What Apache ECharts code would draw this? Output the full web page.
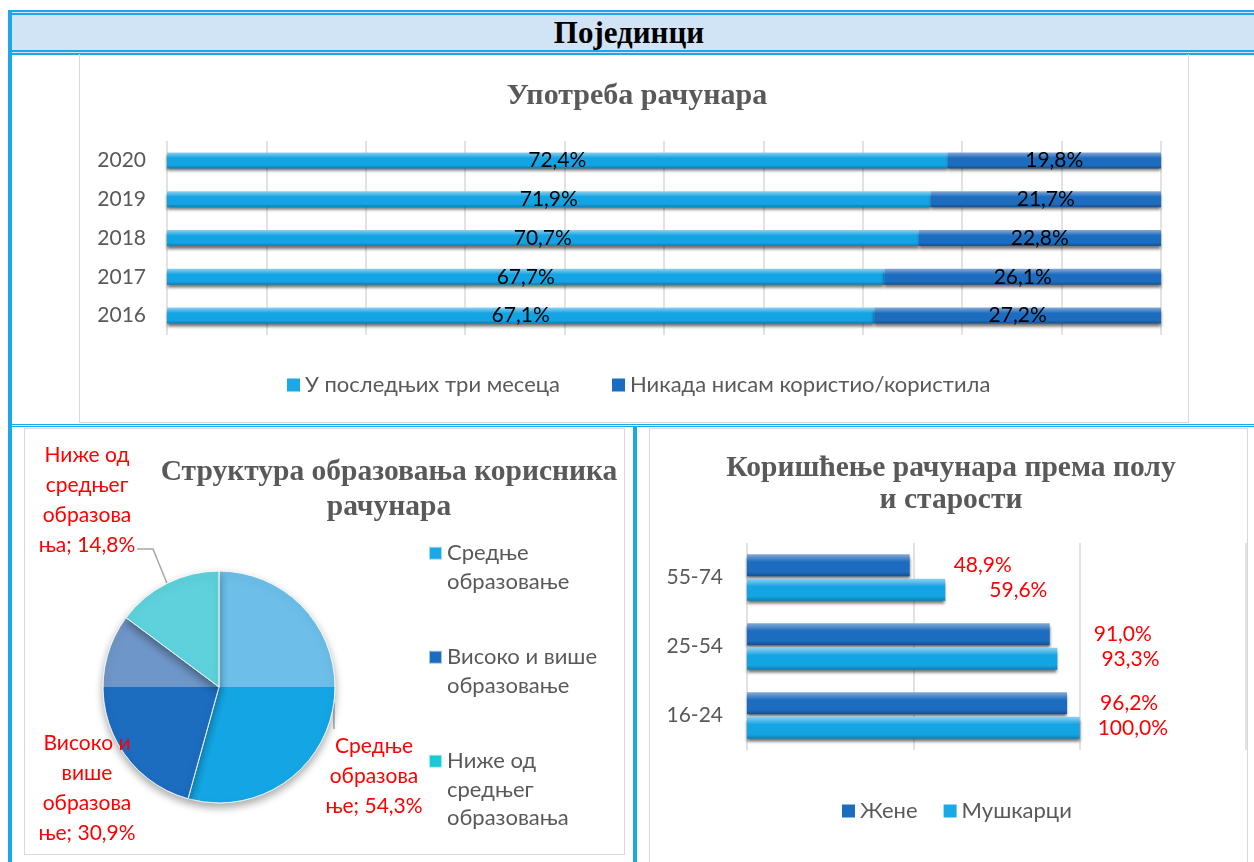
<!DOCTYPE html>
<html>
<head>
<meta charset="utf-8">
<script src="https://cdn.jsdelivr.net/npm/echarts@6/dist/echarts.min.js"></script>
<style>
  body { margin: 0; background: #fff; width: 1254px; height: 862px; position: relative; overflow: hidden; }
  .blue { position: absolute; background: #1aa9e6; }
  .box { position: absolute; box-sizing: border-box; border: 1px solid #d9d9d9; }
  #head { position: absolute; left: 8px; top: 10px; width: 1250px; height: 45px; box-sizing: border-box;
          border-top: 5px double #1aa9e6; border-bottom: 5px double #1aa9e6; background: #d0e4f5;
          font: bold 31px "Liberation Serif", serif; color: #000; text-align: center; line-height: 35px; }
</style>
</head>
<body>
<div id="head"><span style="margin-left:-8px">Појединци</span></div>
<div class="blue" style="left:8px;top:10px;width:4px;height:852px"></div>
<div class="blue" style="left:8px;top:424px;width:1246px;height:1px"></div>
<div class="blue" style="left:8px;top:426px;width:1246px;height:1px"></div>
<div class="blue" style="left:633px;top:426px;width:4px;height:436px"></div>
<div class="box" id="usage" style="left:79px;top:54px;width:1110px;height:369px;border-top:none"></div>
<div class="box" id="edu" style="left:24px;top:428px;width:601px;height:427px"></div>
<div class="box" id="gender" style="left:649px;top:428px;width:599px;height:440px"></div>
<script>
// Употреба рачунара
let years = ['2016', '2017', '2018', '2019', '2020'];
let lastThree = [67.1, 67.7, 70.7, 71.9, 72.4];
let never = [27.2, 26.1, 22.8, 21.7, 19.8];

// Структура образовања
let eduNames = ['Средње образовање', 'Високо и више образовање', 'Ниже од средњег образовања'];
let eduValues = [54.3, 30.9, 14.8];

// Пол и старост
let ages = ['16-24', '25-54', '55-74'];
let women = [96.2, 91.0, 48.9];
let men = [100.0, 93.3, 59.6];

let sans = 'Lato, "Open Sans", sans-serif';
let serif = '"Liberation Serif", serif';
let gray = '#595959';

function glossy(top, mid, bottom) {
    return new echarts.graphic.LinearGradient(0, 0, 0, 1, [
        {offset: 0, color: top},
        {offset: 0.35, color: mid},
        {offset: 0.8, color: mid},
        {offset: 1, color: bottom}
    ]);
}
let lightBar = glossy('#8fd0f1', '#13a4e3', '#0c7fb3');
let darkBar = glossy('#86a9d6', '#1c6dbf', '#164f8c');
let barShadow = {shadowColor: 'rgba(0,0,0,0.55)', shadowBlur: 3, shadowOffsetY: 3};
let fmt = function (v) { return v.toFixed(1).replace('.', ',') + '%'; };

// top chart: 100% stacked
let chart1 = echarts.init(document.getElementById('usage'));
let share1 = lastThree.map((v, i) => v / (v + never[i]) * 100);
let share2 = never.map((v, i) => v / (v + lastThree[i]) * 100);
chart1.setOption({
    title: {
        text: 'Употреба рачунара', left: 552, top: 22, textAlign: 'center',
        textStyle: {fontFamily: serif, fontWeight: 'bold', fontSize: 30, color: gray}
    },
    legend: {
        top: 315, left: 202, itemWidth: 13, itemHeight: 13, itemGap: 52, icon: 'rect',
        textStyle: {fontFamily: sans, fontSize: 22, color: gray},
        data: [{name: 'У последњих три месеца', itemStyle: {color: '#1aa9e6'}},
               {name: 'Никада нисам користио/користила', itemStyle: {color: '#1c6dbf'}}]
    },
    grid: {left: 87, top: 87, width: 994, height: 194},
    xAxis: {
        type: 'value', min: 0, max: 100, interval: 10,
        axisLabel: {show: false}, axisLine: {show: false}, axisTick: {show: false},
        splitLine: {lineStyle: {color: '#d9d9d9', width: 1.5}}
    },
    yAxis: {
        type: 'category', data: years,
        axisLine: {show: false}, axisTick: {show: false},
        axisLabel: {fontFamily: sans, fontSize: 21, color: gray, margin: 21}
    },
    series: [
        {
            name: 'У последњих три месеца', type: 'bar', stack: 'a', barWidth: 16, data: share1,
            itemStyle: Object.assign({color: lightBar}, barShadow),
            label: {show: true, position: 'inside', color: '#000', fontFamily: sans, fontSize: 21,
                    formatter: p => fmt(lastThree[p.dataIndex])}
        },
        {
            name: 'Никада нисам користио/користила', type: 'bar', stack: 'a', barWidth: 16, data: share2,
            itemStyle: Object.assign({color: darkBar}, barShadow),
            label: {show: true, position: 'inside', color: '#000', fontFamily: sans, fontSize: 21,
                    formatter: p => fmt(never[p.dataIndex])}
        }
    ]
});

// pie chart
let chart2 = echarts.init(document.getElementById('edu'));
let cx = 194, cy = 258, r = 116;
function split(top, bottom) {
    return {
        type: 'linear', x: 0, y: cy - r, x2: 0, y2: cy + r, global: true,
        colorStops: [{offset: 0, color: top}, {offset: 0.5, color: top},
                     {offset: 0.5, color: bottom}, {offset: 1, color: bottom}]
    };
}
let pieColors = [split('#6dbfe9', '#14a6e4'), split('#6f96c8', '#1c6cbf'), split('#5ed2dc', '#12c2d0')];
let legendColors = ['#1aa9e6', '#1c6dbf', '#19c9d6'];
let pieLabels = ['Средње\nобразова\nње; 54,3%', 'Високо и\nвише\nобразова\nње; 30,9%', 'Ниже од\nсредњег\nобразова\nња; 14,8%'];
// blank lines keep the first text line level with the legend icon
let legendText = ['\n\nСредње\nобразовање\n', '\n\nВисоко и више\nобразовање\n', '\n\nНиже од\nсредњег\nобразовања'];
let labelPos = [[349, 347], [62, 359], [62, 71]];
let lh = 28.5;

// point on the pie rim in the middle of each slice
let eduTotal = eduValues.reduce((a, b) => a + b, 0);
function rimPoint(i) {
    let before = eduValues.slice(0, i).reduce((a, b) => a + b, 0);
    let t = (before + eduValues[i] / 2) / eduTotal * Math.PI * 2;
    return [cx + r * Math.sin(t), cy - r * Math.cos(t)];
}
let bends = [[[0, 0], [0, 300]], null, [[128, 120], [112, 120]]];

chart2.setOption({
    title: {
        text: 'Структура образовања корисника\nрачунара', left: 359, top: 21, textAlign: 'center',
        textStyle: {fontFamily: serif, fontWeight: 'bold', fontSize: 29.5, color: gray, lineHeight: 35}
    },
    legend: {
        orient: 'vertical', left: 398, top: 48, height: 370, itemWidth: 13, itemHeight: 13,
        itemGap: 104 - 5 * lh, icon: 'rect',
        textStyle: {fontFamily: sans, fontSize: 22, color: gray, lineHeight: lh},
        data: eduNames.map((n, i) => ({name: n, itemStyle: {color: legendColors[i]}})),
        formatter: n => legendText[eduNames.indexOf(n)]
    },
    series: [{
        type: 'pie', center: [cx, cy], radius: r, startAngle: 90,
        data: eduNames.map((n, i) => ({name: n, value: eduValues[i], itemStyle: {color: pieColors[i]},
                                        labelLine: {show: i !== 1}})),
        itemStyle: {borderColor: 'rgba(255,255,255,0.6)', borderWidth: 1,
                    shadowColor: 'rgba(0,0,0,0.35)', shadowBlur: 8, shadowOffsetY: 4},
        label: {
            color: '#ff0000', fontFamily: sans, fontSize: 21, lineHeight: 30, align: 'center', overflow: 'none',
            formatter: p => pieLabels[p.dataIndex]
        },
        labelLine: {lineStyle: {color: '#a6a6a6', width: 1.5}, length: 10, length2: 14},
        labelLayout: function (p) {
            let i = p.dataIndex;
            let out = {x: labelPos[i][0], y: labelPos[i][1], align: 'center', verticalAlign: 'middle'};
            if (bends[i]) {
                let s = rimPoint(i);
                out.labelLinePoints = i === 0 ? [s, [s[0], 300]] : [s].concat(bends[i]);
            }
            return out;
        },
        emphasis: {scale: false}
    }]
});

// by gender and age
let chart3 = echarts.init(document.getElementById('gender'));
let redLabel = {show: true, position: 'right', color: '#ff0000', fontFamily: sans, fontSize: 21,
                formatter: p => fmt(p.value), distance: 44};
let womenGaps = [33, 44, 44];
let menGaps = [18, 44, 44];
chart3.setOption({
    title: {
        text: 'Коришћење рачунара према полу\nи старости', left: 296, top: 18, textAlign: 'center',
        textStyle: {fontFamily: serif, fontWeight: 'bold', fontSize: 29.5, color: gray, lineHeight: 32}
    },
    legend: {
        top: 366, left: 187, itemWidth: 13, itemHeight: 13, itemGap: 26, icon: 'rect',
        textStyle: {fontFamily: sans, fontSize: 22, color: gray},
        data: [{name: 'Жене', itemStyle: {color: '#1c6dbf'}}, {name: 'Мушкарци', itemStyle: {color: '#1aa9e6'}}]
    },
    grid: {left: 97, top: 114, width: 499, height: 207},
    xAxis: {
        type: 'value', min: 0, max: 150, interval: 50,
        axisLabel: {show: false}, axisLine: {show: false}, axisTick: {show: false},
        splitLine: {lineStyle: {color: '#d9d9d9', width: 1.5}}
    },
    yAxis: {
        type: 'category', data: ages,
        axisLine: {show: false}, axisTick: {show: false},
        axisLabel: {fontFamily: sans, fontSize: 21, color: gray, margin: 24}
    },
    series: [
        {name: 'Жене', type: 'bar', barWidth: 22, barGap: '12%',
         data: women.map((v, i) => ({value: v, label: {distance: womenGaps[i]}})),
         itemStyle: Object.assign({color: darkBar}, barShadow), label: redLabel},
        {name: 'Мушкарци', type: 'bar', barWidth: 22, barGap: '12%',
         data: men.map((v, i) => ({value: v, label: {distance: menGaps[i]}})),
         itemStyle: Object.assign({color: lightBar}, barShadow), label: redLabel}
    ]
});
</script>
</body>
</html>
